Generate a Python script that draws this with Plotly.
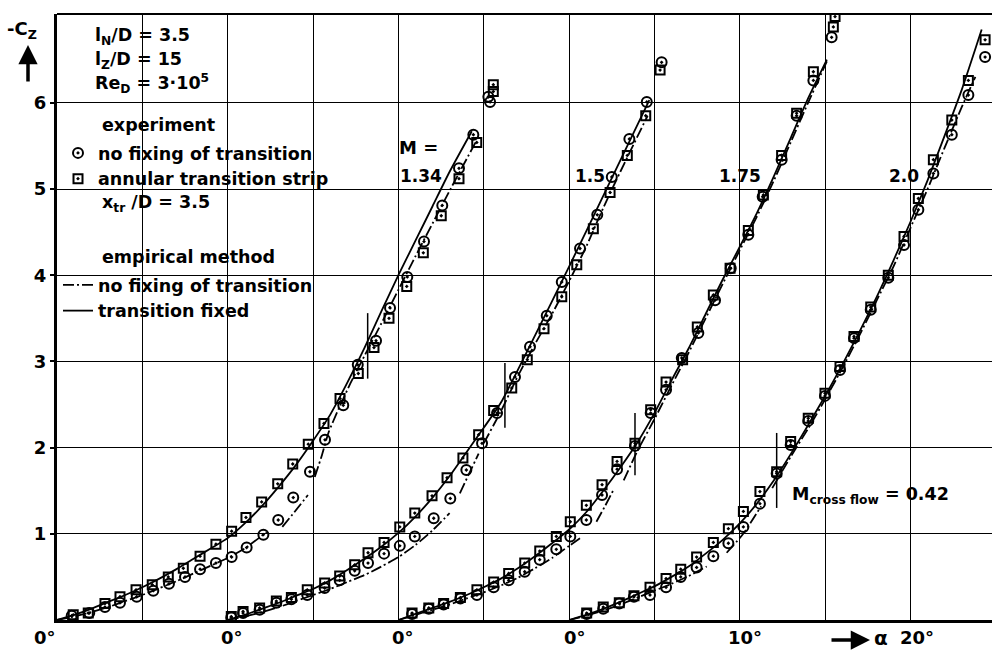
import plotly.graph_objects as go

# ---------------- data ----------------
mach_labels = ["1.34", "1.5", "1.75", "2.0"]
alpha_offset = [0, 10, 20, 30]          # each Mach curve starts at its own 0 deg

# M = 1.34
sq_a_134 = [0.95, 1.83, 2.81, 3.69, 4.63, 5.58, 6.52, 7.40, 8.38, 9.31, 10.23, 11.07, 11.99, 12.93, 13.81, 14.72,
            15.64, 16.58, 17.65, 18.57, 19.45, 20.49, 21.46, 22.51, 23.55, 24.59, 25.56, 25.56]
sq_cz_134 = [0.06, 0.08, 0.19, 0.27, 0.35, 0.41, 0.50, 0.60, 0.74, 0.88, 1.03, 1.19, 1.37, 1.58, 1.81, 2.04,
             2.28, 2.57, 2.86, 3.16, 3.50, 3.87, 4.26, 4.69, 5.12, 5.54, 6.13, 6.21]
circ_a_134 = [0.86, 1.89, 2.81, 3.69, 4.67, 5.64, 6.56, 7.50, 8.38, 9.31, 10.23, 11.11, 12.09, 12.96, 13.84, 14.82,
              15.70, 16.77, 17.62, 18.69, 19.51, 20.52, 21.50, 22.57, 23.55, 24.39, 25.27, 25.37]
circ_cz_134 = [0.05, 0.08, 0.15, 0.20, 0.27, 0.34, 0.42, 0.50, 0.59, 0.66, 0.73, 0.84, 0.99, 1.16, 1.42, 1.72,
               2.09, 2.49, 2.96, 3.24, 3.62, 3.98, 4.39, 4.81, 5.24, 5.63, 6.07, 6.01]
solid_a_134 = [0, 1, 2, 3, 4, 5, 6, 7, 8, 9, 10, 11, 12, 13, 14, 15, 16, 17, 18, 19, 20, 21, 22, 23, 24.3]
solid_cz_134 = [0, 0.06, 0.13, 0.21, 0.29, 0.38, 0.48, 0.59, 0.71, 0.83, 0.95, 1.12, 1.32, 1.55, 1.80, 2.08,
                2.38, 2.75, 3.15, 3.58, 4.00, 4.40, 4.80, 5.20, 5.67]
dd_a_134 = [0, 1, 2, 3, 4, 5, 6, 7, 8, 9, 10, 11, 12.28, None, 13.2, 13.9, 14.7, None,
            15.1, 15.5, 15.9, 16.5, 17.2, 18, 19, 20, 21, 22, 23, 24.6]
dd_cz_134 = [0, 0.04, 0.09, 0.15, 0.22, 0.29, 0.37, 0.45, 0.54, 0.63, 0.72, 0.83, 1.02, None, 1.08, 1.25, 1.45, None,
             1.66, 1.90, 2.17, 2.45, 2.75, 3.06, 3.44, 3.83, 4.22, 4.60, 4.98, 5.57]

# M = 1.5
sq_a_150 = [0.21, 0.90, 1.87, 2.85, 3.73, 4.66, 5.68, 6.56, 7.44, 8.22, 9.16, 10.08, 10.96, 11.97, 12.85, 13.78,
            14.70, 15.58, 16.64, 17.55, 18.53, 19.57, 20.45, 21.42, 22.40, 23.41, 24.49, 25.33]
sq_cz_150 = [0.04, 0.10, 0.14, 0.22, 0.26, 0.35, 0.43, 0.51, 0.64, 0.78, 0.90, 1.08, 1.24, 1.44, 1.65, 1.88,
             2.15, 2.43, 2.69, 3.02, 3.38, 3.75, 4.12, 4.54, 4.96, 5.39, 5.85, 6.38]
circ_a_150 = [0.21, 0.90, 1.87, 2.85, 3.73, 4.66, 5.68, 6.56, 7.44, 8.22, 9.16, 10.08, 10.96, 12.07, 13.04, 13.98,
              14.90, 15.78, 16.83, 17.71, 18.69, 19.57, 20.64, 21.65, 22.50, 23.53, 24.55, 25.42]
circ_cz_150 = [0.03, 0.08, 0.12, 0.20, 0.24, 0.29, 0.37, 0.46, 0.57, 0.66, 0.77, 0.86, 0.97, 1.18, 1.41, 1.74,
               2.05, 2.40, 2.82, 3.17, 3.53, 3.92, 4.31, 4.70, 5.14, 5.58, 6.01, 6.47]
solid_a_150 = [0, 1, 2, 3, 4, 5, 6, 7, 8, 9, 10, 11, 12, 13, 14, 15, 16, 18, 20, 22, 24.7]
solid_cz_150 = [0, 0.06, 0.13, 0.20, 0.28, 0.36, 0.46, 0.58, 0.71, 0.85, 1.01, 1.20, 1.42, 1.67, 1.95, 2.23,
                2.52, 3.30, 4.10, 4.92, 6.03]
dd_a_150 = [0, 1, 2, 3, 4, 5, 6, 7, 8, 9, 10, 11, 12, 13, None, 13.6, 14.1, 14.7, None,
            15, 16, 17, 18, 19, 20, 21, 22, 23, 24.6]
dd_cz_150 = [0, 0.04, 0.09, 0.15, 0.22, 0.29, 0.36, 0.44, 0.52, 0.62, 0.73, 0.87, 1.04, 1.24, None, 1.47, 1.68, 1.93,
             None, 2.05, 2.42, 2.83, 3.20, 3.55, 3.93, 4.33, 4.78, 5.20, 5.85]

# M = 1.75
sq_a_175 = [0.80, 1.78, 2.65, 3.63, 4.60, 5.58, 6.46, 7.40, 8.28, 9.25, 10.07, 11.01, 11.93, 12.81, 13.86, 14.78,
            15.68, 16.65, 17.51, 18.45, 19.43, 20.50, 21.38, 22.45, 23.33, 24.31, 25.48, 25.58]
sq_cz_175 = [0.08, 0.14, 0.19, 0.26, 0.35, 0.44, 0.54, 0.66, 0.80, 0.97, 1.14, 1.33, 1.57, 1.84, 2.05, 2.44,
             2.76, 3.02, 3.40, 3.77, 4.08, 4.52, 4.93, 5.39, 5.88, 6.36, 6.88, 7.00]
circ_a_175 = [0.80, 1.78, 2.65, 3.63, 4.60, 5.58, 6.46, 7.40, 8.28, 9.25, 10.07, 11.01, 11.93, 12.81, 13.86, 14.78,
              15.68, 16.60, 17.57, 18.55, 19.47, 20.50, 21.34, 22.45, 23.33, 24.31, 25.38]
circ_cz_175 = [0.07, 0.13, 0.18, 0.25, 0.29, 0.38, 0.46, 0.56, 0.70, 0.82, 0.97, 1.16, 1.45, 1.75, 2.02, 2.40,
               2.67, 3.04, 3.33, 3.71, 4.08, 4.47, 4.91, 5.34, 5.85, 6.26, 6.76]
solid_a_175 = [0, 1, 2, 3, 4, 5, 6, 7, 8, 9, 10, 11, 12, 13, 14, 15, 16, 17, 18, 19, 20, 21, 22, 23, 24, 25.1]
solid_cz_175 = [0, 0.07, 0.14, 0.21, 0.29, 0.38, 0.48, 0.60, 0.74, 0.89, 1.05, 1.25, 1.50, 1.77, 2.06, 2.40,
                2.78, 3.15, 3.55, 3.95, 4.33, 4.72, 5.15, 5.60, 6.05, 6.50]
dd_a_175 = [0, 1, 2, 3, 4, 5, 6, 7, 8, 9, 10, 10.8, None, 11.6, 12.1, 12.6, None,
            13.2, 14, 15, 16, 17, 18, 19, 20, 21, 22, 23, 24, 25.1]
dd_cz_175 = [0, 0.06, 0.12, 0.18, 0.25, 0.32, 0.40, 0.49, 0.60, 0.72, 0.86, 0.97, None, 1.14, 1.32, 1.51, None,
             1.62, 1.96, 2.33, 2.72, 3.10, 3.50, 3.90, 4.29, 4.68, 5.10, 5.55, 6.00, 6.48]

# M = 2.0
sq_a_200 = [1.03, 2.00, 2.94, 3.80, 4.74, 5.68, 6.54, 7.47, 8.45, 9.33, 10.21, 11.18, 12.16, 12.98, 14.01, 14.99,
            15.87, 16.69, 17.67, 18.70, 19.62, 20.46, 21.34, 22.42, 23.39, 24.37]
sq_cz_200 = [0.08, 0.15, 0.20, 0.28, 0.38, 0.48, 0.59, 0.73, 0.90, 1.06, 1.26, 1.49, 1.72, 2.07, 2.34, 2.63,
             2.94, 3.29, 3.63, 4.00, 4.45, 4.89, 5.34, 5.80, 6.26, 6.73]
circ_a_200 = [1.03, 2.00, 2.94, 3.80, 4.74, 5.68, 6.54, 7.47, 8.45, 9.33, 10.21, 11.18, 12.16, 12.98, 14.01, 14.99,
              15.87, 16.69, 17.67, 18.70, 19.62, 20.46, 21.34, 22.42, 23.39, 24.37]
circ_cz_200 = [0.07, 0.13, 0.19, 0.27, 0.29, 0.38, 0.50, 0.61, 0.74, 0.89, 1.08, 1.35, 1.70, 2.03, 2.31, 2.60,
               2.90, 3.27, 3.60, 3.97, 4.35, 4.76, 5.18, 5.63, 6.09, 6.53]
solid_a_200 = [0, 1, 2, 3, 4, 5, 6, 7, 8, 9, 10, 11, 12, 13, 14, 15, 16, 17, 18, 19, 20, 21, 22, 23, 24.17]
solid_cz_200 = [0, 0.06, 0.13, 0.21, 0.30, 0.39, 0.50, 0.62, 0.77, 0.93, 1.12, 1.35, 1.62, 1.93, 2.26, 2.60,
                2.96, 3.34, 3.74, 4.17, 4.62, 5.10, 5.62, 6.15, 6.85]
dd_a_200 = [0, 1, 2, 3, 4, 5, 6, 7, 8.06, None, 9.23, 10.2, 11.25, None,
            11.9, 13, 14, 15, 16, 17, 18, 19, 20, 21, 22, 23, 23.8]
dd_cz_200 = [0, 0.05, 0.11, 0.18, 0.26, 0.34, 0.42, 0.51, 0.62, None, 0.78, 1.00, 1.32, None,
             1.53, 1.90, 2.22, 2.56, 2.92, 3.30, 3.70, 4.10, 4.55, 5.00, 5.48, 5.95, 6.30]

# M_cross flow = 0.42 marks (local alpha, -Cz from / to)
cross_a = [18.2, 16.24, 13.86, 12.16]
cross_cz_lo = [2.80, 2.23, 1.68, 1.30]
cross_cz_hi = [3.56, 2.98, 2.40, 2.17]

y_tick_vals = [1, 2, 3, 4, 5, 6]
x_grid_vals = [5, 10, 15, 20, 25, 30, 35, 40, 45, 50]
x_label_vals = [0, 10, 20, 30, 40, 50]
x_label_text = ["0°", "0°", "0°", "0°", "10°", "20°"]

series = [
    (sq_a_134, sq_cz_134, circ_a_134, circ_cz_134, solid_a_134, solid_cz_134, dd_a_134, dd_cz_134),
    (sq_a_150, sq_cz_150, circ_a_150, circ_cz_150, solid_a_150, solid_cz_150, dd_a_150, dd_cz_150),
    (sq_a_175, sq_cz_175, circ_a_175, circ_cz_175, solid_a_175, solid_cz_175, dd_a_175, dd_cz_175),
    (sq_a_200, sq_cz_200, circ_a_200, circ_cz_200, solid_a_200, solid_cz_200, dd_a_200, dd_cz_200),
]

# ---------------- figure ----------------
W, H = 992, 652
ML, MR, MT, MB = 57, 0, 14, 32
PW, PH = W - ML - MR, H - MT - MB
FONT = "DejaVu Sans"
BLACK = "#000000"


def shift(vals, off):
    return [None if v is None else v + off for v in vals]


def pxx(x):
    return (x - ML) / PW


def pxy(y):
    return (MT + PH - y) / PH


fig = go.Figure()
DASHDOT = "11px,3px,2px,3px"

for i, (sa, sc, ca, cc, la, lc, da, dc) in enumerate(series):
    off = alpha_offset[i]
    first = i == 0
    fig.add_trace(go.Scatter(x=shift(da, off), y=dc, mode="lines", line=dict(color=BLACK, width=1.8, dash=DASHDOT,
                             shape="spline", smoothing=0.6), name="no fixing of transition", legend="legend2",
                             legendgroup="dd", showlegend=first))
    fig.add_trace(go.Scatter(x=shift(la, off), y=lc, mode="lines", line=dict(color=BLACK, width=1.8, shape="spline",
                             smoothing=0.6), name="transition fixed", legend="legend2", legendgroup="solid",
                             showlegend=first))
    fig.add_trace(go.Scatter(x=shift([cross_a[i], cross_a[i]], off), y=[cross_cz_lo[i], cross_cz_hi[i]], mode="lines",
                             line=dict(color=BLACK, width=1.5), showlegend=False, hoverinfo="skip"))
    fig.add_trace(go.Scatter(x=shift(ca, off), y=cc, mode="markers",
                             marker=dict(symbol="circle-open-dot", size=10, color=BLACK, line=dict(width=2, color=BLACK)),
                             name="no fixing of transition", legend="legend", legendgroup="circ", showlegend=first))
    fig.add_trace(go.Scatter(x=shift(sa, off), y=sc, mode="markers",
                             marker=dict(symbol="square-open-dot", size=9, color=BLACK, line=dict(width=2, color=BLACK)),
                             name="annular transition strip", legend="legend", legendgroup="sq", showlegend=first))

x_max = PW / 17.07
y_max = PH / 86.2

fig.update_xaxes(range=[0, x_max], tickvals=x_grid_vals, showticklabels=False, showgrid=True, gridcolor=BLACK,
                 gridwidth=1, zeroline=False, showline=True, linecolor=BLACK, linewidth=3, ticks="")
fig.update_yaxes(range=[0, y_max], tickvals=y_tick_vals, ticktext=[str(v) for v in y_tick_vals], showgrid=True,
                 gridcolor=BLACK, gridwidth=1, zeroline=False, showline=True, linecolor=BLACK, linewidth=3,
                 ticks="outside", ticklen=4, tickwidth=2, tickcolor=BLACK,
                 tickfont=dict(family=FONT, size=18, color=BLACK, weight="bold"))

ann = []
TXT = dict(family=FONT, size=17.5, color=BLACK, weight="bold")


def note(text, x, y, anchor="left", size=None):
    f = dict(TXT)
    if size:
        f["size"] = size
    ann.append(dict(text=text, x=pxx(x), y=pxy(y), xref="paper", yref="paper", xanchor=anchor, yanchor="middle",
                    showarrow=False, font=f))


note("l<sub>N</sub>/D = 3.5", 93, 37)
note("l<sub>Z</sub>/D = 15", 93, 60)
note("Re<sub>D</sub> = 3·10<sup>5</sup>", 93, 84)
note("experiment", 100, 125)
note("x<sub>tr</sub> /D = 3.5", 100, 203)
note("empirical method", 100, 257)
note("-C<sub>Z</sub>", 5, 30, size=18)

# Mach number labels
ann.append(dict(text="M =", x=19.92, y=5.48, xref="x", yref="y", xanchor="left", yanchor="middle",
                showarrow=False, font=dict(TXT, size=18)))
mach_pos = [(19.98, "left"), (31.22, "center"), (40.0, "center"), (49.6, "center")]
for lab, (xa, anc) in zip(mach_labels, mach_pos):
    ann.append(dict(text=lab, x=xa, y=5.15, xref="x", yref="y", xanchor=anc, yanchor="middle",
                    showarrow=False, font=dict(TXT, size=17)))
ann.append(dict(text="M<sub>cross flow</sub> = 0.42", x=42.94, y=1.45, xref="x", yref="y", xanchor="left",
                yanchor="middle", showarrow=False, font=dict(TXT, size=17.5)))

# bottom alpha labels
x_shifts = [-12, 4, 5, 6, 5, 6]
for v, t, s in zip(x_label_vals, x_label_text, x_shifts):
    ann.append(dict(text=t, x=v, y=0, xref="x", yref="paper", xanchor="center", yanchor="middle", xshift=s,
                    yshift=-17, showarrow=False, font=dict(TXT, size=18)))
note("α", 881, 638, anchor="center", size=20)

# arrows
ann.append(dict(text="", x=pxx(28), y=pxy(45), xref="paper", yref="paper", ax=0, ay=38, showarrow=True,
                arrowhead=2, arrowsize=1.1, arrowwidth=3.5, arrowcolor=BLACK))
ann.append(dict(text="", x=pxx(870), y=pxy(640), xref="paper", yref="paper", ax=-40, ay=0, showarrow=True,
                arrowhead=2, arrowsize=1.1, arrowwidth=3.5, arrowcolor=BLACK))

fig.update_layout(
    width=W, height=H, margin=dict(l=ML, r=MR, t=MT, b=MB),
    paper_bgcolor="white", plot_bgcolor="white",
    font=dict(family=FONT, color=BLACK),
    annotations=ann,
    shapes=[dict(type="line", xref="paper", yref="paper", x0=0, x1=1, y0=1, y1=1,
                 line=dict(color=BLACK, width=2))],
    legend=dict(x=pxx(58), y=pxy(135), xanchor="left", yanchor="top", bgcolor="rgba(0,0,0,0)",
                font=TXT, tracegroupgap=0, borderwidth=0),
    legend2=dict(x=pxx(58), y=pxy(267), xanchor="left", yanchor="top", bgcolor="rgba(0,0,0,0)",
                 font=TXT, tracegroupgap=0, borderwidth=0),
    showlegend=True,
)

fig.write_html("out.html", config={"displayModeBar": False},
               post_script="document.body.style.margin='0';document.body.style.overflow='hidden';")
